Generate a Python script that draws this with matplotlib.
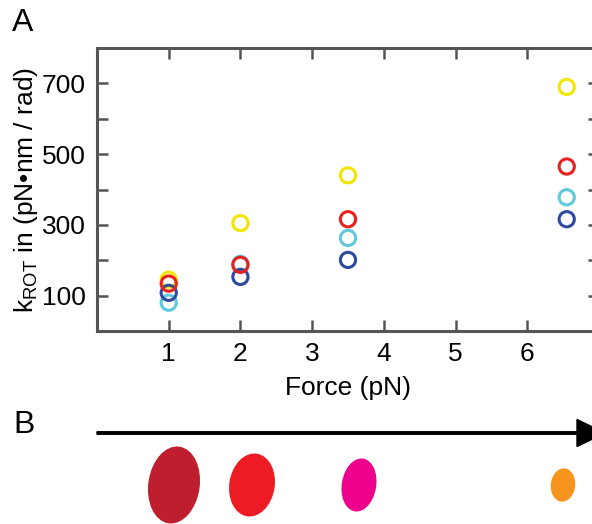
import matplotlib
matplotlib.use("Agg")
import matplotlib.pyplot as plt
from matplotlib.patches import Ellipse, FancyArrow
from matplotlib.ticker import FixedLocator

plt.rcParams.update({
    "font.family": ["Liberation Sans", "DejaVu Sans"],
    "mathtext.fontset": "custom",
    "mathtext.rm": "Liberation Sans",
    "mathtext.it": "Liberation Sans",
})

# ---------- data ----------
force = [1.0, 2.0, 3.5, 6.55]
k_yellow = [145, 305, 440, 690]
k_red = [134, 187, 316, 465]
k_cyan = [80, 190, 263, 378]
k_blue = [108, 153, 201, 316]

series = [
    (k_yellow, "#F2E500"),
    (k_cyan, "#5FC8DC"),
    (k_blue, "#2E4A9E"),
    (k_red, "#E8211F"),
]

# panel B: bead clouds (pixel units)
blob_x = [174, 252, 359, 563]
blob_w = [50, 44, 33, 23]
blob_h = [76, 62, 52, 32]
blob_tilt = [8, 9, 9, 6]
blob_colors = ["#BE1E2D", "#ED1C24", "#EC008C", "#F7941D"]

W, H = 592, 524
fig = plt.figure(figsize=(W / 100, H / 100), dpi=100)

# ---------- panel A ----------
ax = fig.add_axes([97 / W, 1 - 331 / H, 502 / W, 283 / H])
for vals, c in series:
    ax.scatter(force, vals, s=120, facecolors="none", edgecolors=c,
               linewidths=2.2, zorder=3)

ax.set_xlim(0, 7)
ax.set_ylim(0, 800)
ax.xaxis.set_major_locator(FixedLocator([1, 2, 3, 4, 5, 6]))
ax.yaxis.set_major_locator(FixedLocator([100, 300, 500, 700]))
ax.yaxis.set_minor_locator(FixedLocator([200, 400, 600]))
ax.tick_params(which="both", direction="in", top=True, right=True,
               length=8, width=1.8, color="#555555", labelsize=19, pad=8)
for s in ax.spines.values():
    s.set_color("#555555")
    s.set_linewidth(2.2)
ax.set_xlabel("Force (pN)", fontsize=19, labelpad=7)
ax.set_ylabel(r"k$_{\mathrm{ROT}}$ in (pN•nm / rad)", fontsize=19, labelpad=1)

fig.text(12 / W, 1 - 31 / H, "A", fontsize=23)
fig.text(13 / W, 1 - 433 / H, "B", fontsize=23)

# ---------- panel B ----------
axb = fig.add_axes([0, 0, 1, 124 / H])
axb.set_xlim(0, W)
axb.set_ylim(H, H - 124)
axb.axis("off")
axb.add_patch(FancyArrow(97, 433, 508, 0, width=2.5, head_width=27,
                         head_length=28, length_includes_head=True,
                         color="black"))
for x, w, h, t, c in zip(blob_x, blob_w, blob_h, blob_tilt, blob_colors):
    axb.add_patch(Ellipse((x, 485), w, h, angle=t, color=c))

fig.savefig("out.png", dpi=100)
